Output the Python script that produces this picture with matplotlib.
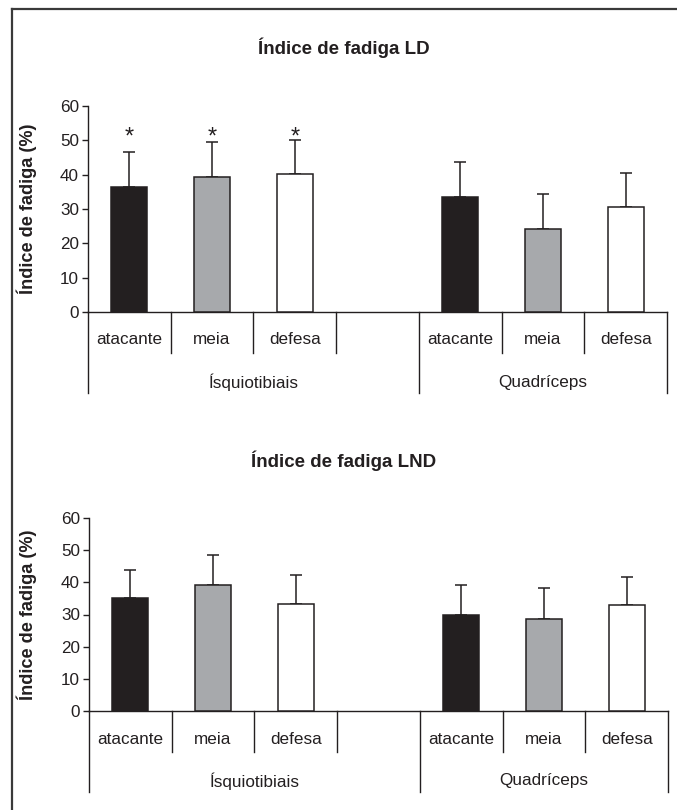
import matplotlib
matplotlib.use("Agg")
import matplotlib.pyplot as plt
from matplotlib.lines import Line2D

plt.rcParams['font.family'] = ['Liberation Sans', 'DejaVu Sans']

# ---------------- data ----------------
positions = ["atacante", "meia", "defesa"]
groups = ["Ísquiotibiais", "Quadríceps"]
titles = ["Índice de fadiga LD", "Índice de fadiga LND"]
ylabel = "Índice de fadiga (%)"

ld_isq_mean = [36.3, 39.2, 40.1]
ld_isq_sd = [10.2, 10.3, 9.9]
ld_quad_mean = [33.5, 24.1, 30.5]
ld_quad_sd = [10.2, 10.2, 10.1]
ld_isq_marks = ["*", "*", "*"]

lnd_isq_mean = [35.1, 39.1, 33.3]
lnd_isq_sd = [8.8, 9.5, 8.9]
lnd_quad_mean = [29.9, 28.6, 32.9]
lnd_quad_sd = [9.3, 9.6, 8.8]

yticks = [0, 10, 20, 30, 40, 50, 60]

bar_colors = ["#231f20", "#a7a9ac", "#ffffff"]
edge = "#231f20"

W, H = 677, 810
DPI = 100
fig = plt.figure(figsize=(W / DPI, H / DPI), dpi=DPI)

# border (left and top visible)
fig.add_artist(Line2D([11.5 / W, 11.5 / W], [0, 1 - 9 / H], transform=fig.transFigure,
                      color="#3a3a3a", lw=1.6))
fig.add_artist(Line2D([11.5 / W, 1], [1 - 9 / H, 1 - 9 / H], transform=fig.transFigure,
                      color="#3a3a3a", lw=1.6))

panels = [
    dict(px=(88, 667, 106, 312), title_y=48,
         isq=(ld_isq_mean, ld_isq_sd), quad=(ld_quad_mean, ld_quad_sd), marks=ld_isq_marks,
         title=titles[0]),
    dict(px=(89, 668, 518, 711), title_y=461,
         isq=(lnd_isq_mean, lnd_isq_sd), quad=(lnd_quad_mean, lnd_quad_sd), marks=None,
         title=titles[1]),
]

FS = 12.3
nslots = 7
for p in panels:
    x0, x1, ytop, ybot = p["px"]
    ax = fig.add_axes([x0 / W, 1 - ybot / H, (x1 - x0) / W, (ybot - ytop) / H])
    hpx = ybot - ytop

    def frac(px):
        return -px / hpx

    ax.set_xlim(0, nslots)
    ax.set_ylim(0, 60)
    ax.set_yticks(yticks)
    ax.set_xticks([])
    ax.tick_params(axis='y', direction='out', length=4.5, width=1, pad=2,
                   labelsize=FS, colors="#231f20")
    for s in ["top", "right"]:
        ax.spines[s].set_visible(False)
    for s in ["left", "bottom"]:
        ax.spines[s].set_linewidth(1)
        ax.spines[s].set_color("#231f20")

    centers_isq = [i + 0.5 for i in range(3)]
    centers_quad = [i + 4.5 for i in range(3)]
    for centers, (m, sd) in [(centers_isq, p["isq"]), (centers_quad, p["quad"])]:
        ax.bar(centers, m, width=0.435, color=bar_colors, edgecolor=edge, linewidth=1.1, zorder=3)
        ax.errorbar(centers, m, yerr=[[0] * len(sd), sd], fmt='none', ecolor=edge,
                    elinewidth=1.1, capsize=4.2, capthick=1.1, zorder=2)

    if p["marks"]:
        for c, mk in zip(centers_isq, p["marks"]):
            ax.text(c, 49.0, mk, ha='center', va='baseline', fontsize=17, color="#231f20")

    tr = ax.get_xaxis_transform()
    # dividers
    for xd in [1, 2, 3, 5, 6]:
        ax.add_line(Line2D([xd, xd], [0, frac(41)], transform=tr, color="#231f20",
                           lw=1, clip_on=False))
    for xd in [0, 4, 7]:
        ax.add_line(Line2D([xd, xd], [0, frac(81)], transform=tr, color="#231f20",
                           lw=1, clip_on=False))
    # category labels
    for centers in (centers_isq, centers_quad):
        for c, lab in zip(centers, positions):
            ax.text(c, frac(28), lab, transform=tr, ha='center', va='center',
                    fontsize=FS, color="#231f20")
    ax.text(2, frac(70), groups[0], transform=tr, ha='center', va='center',
            fontsize=FS, color="#231f20")
    ax.text(5.5, frac(70), groups[1], transform=tr, ha='center', va='center',
            fontsize=FS, color="#231f20")

    ax.set_ylabel(ylabel, fontsize=13.1, fontweight='bold', color="#231f20")
    ax.yaxis.set_label_coords((37 - x0) / (x1 - x0), 0.5)

    fig.text(344 / W, 1 - p["title_y"] / H, p["title"], ha='center', va='center',
             fontsize=13.5, fontweight='bold', color="#231f20")

fig.savefig("out.png", dpi=DPI)
